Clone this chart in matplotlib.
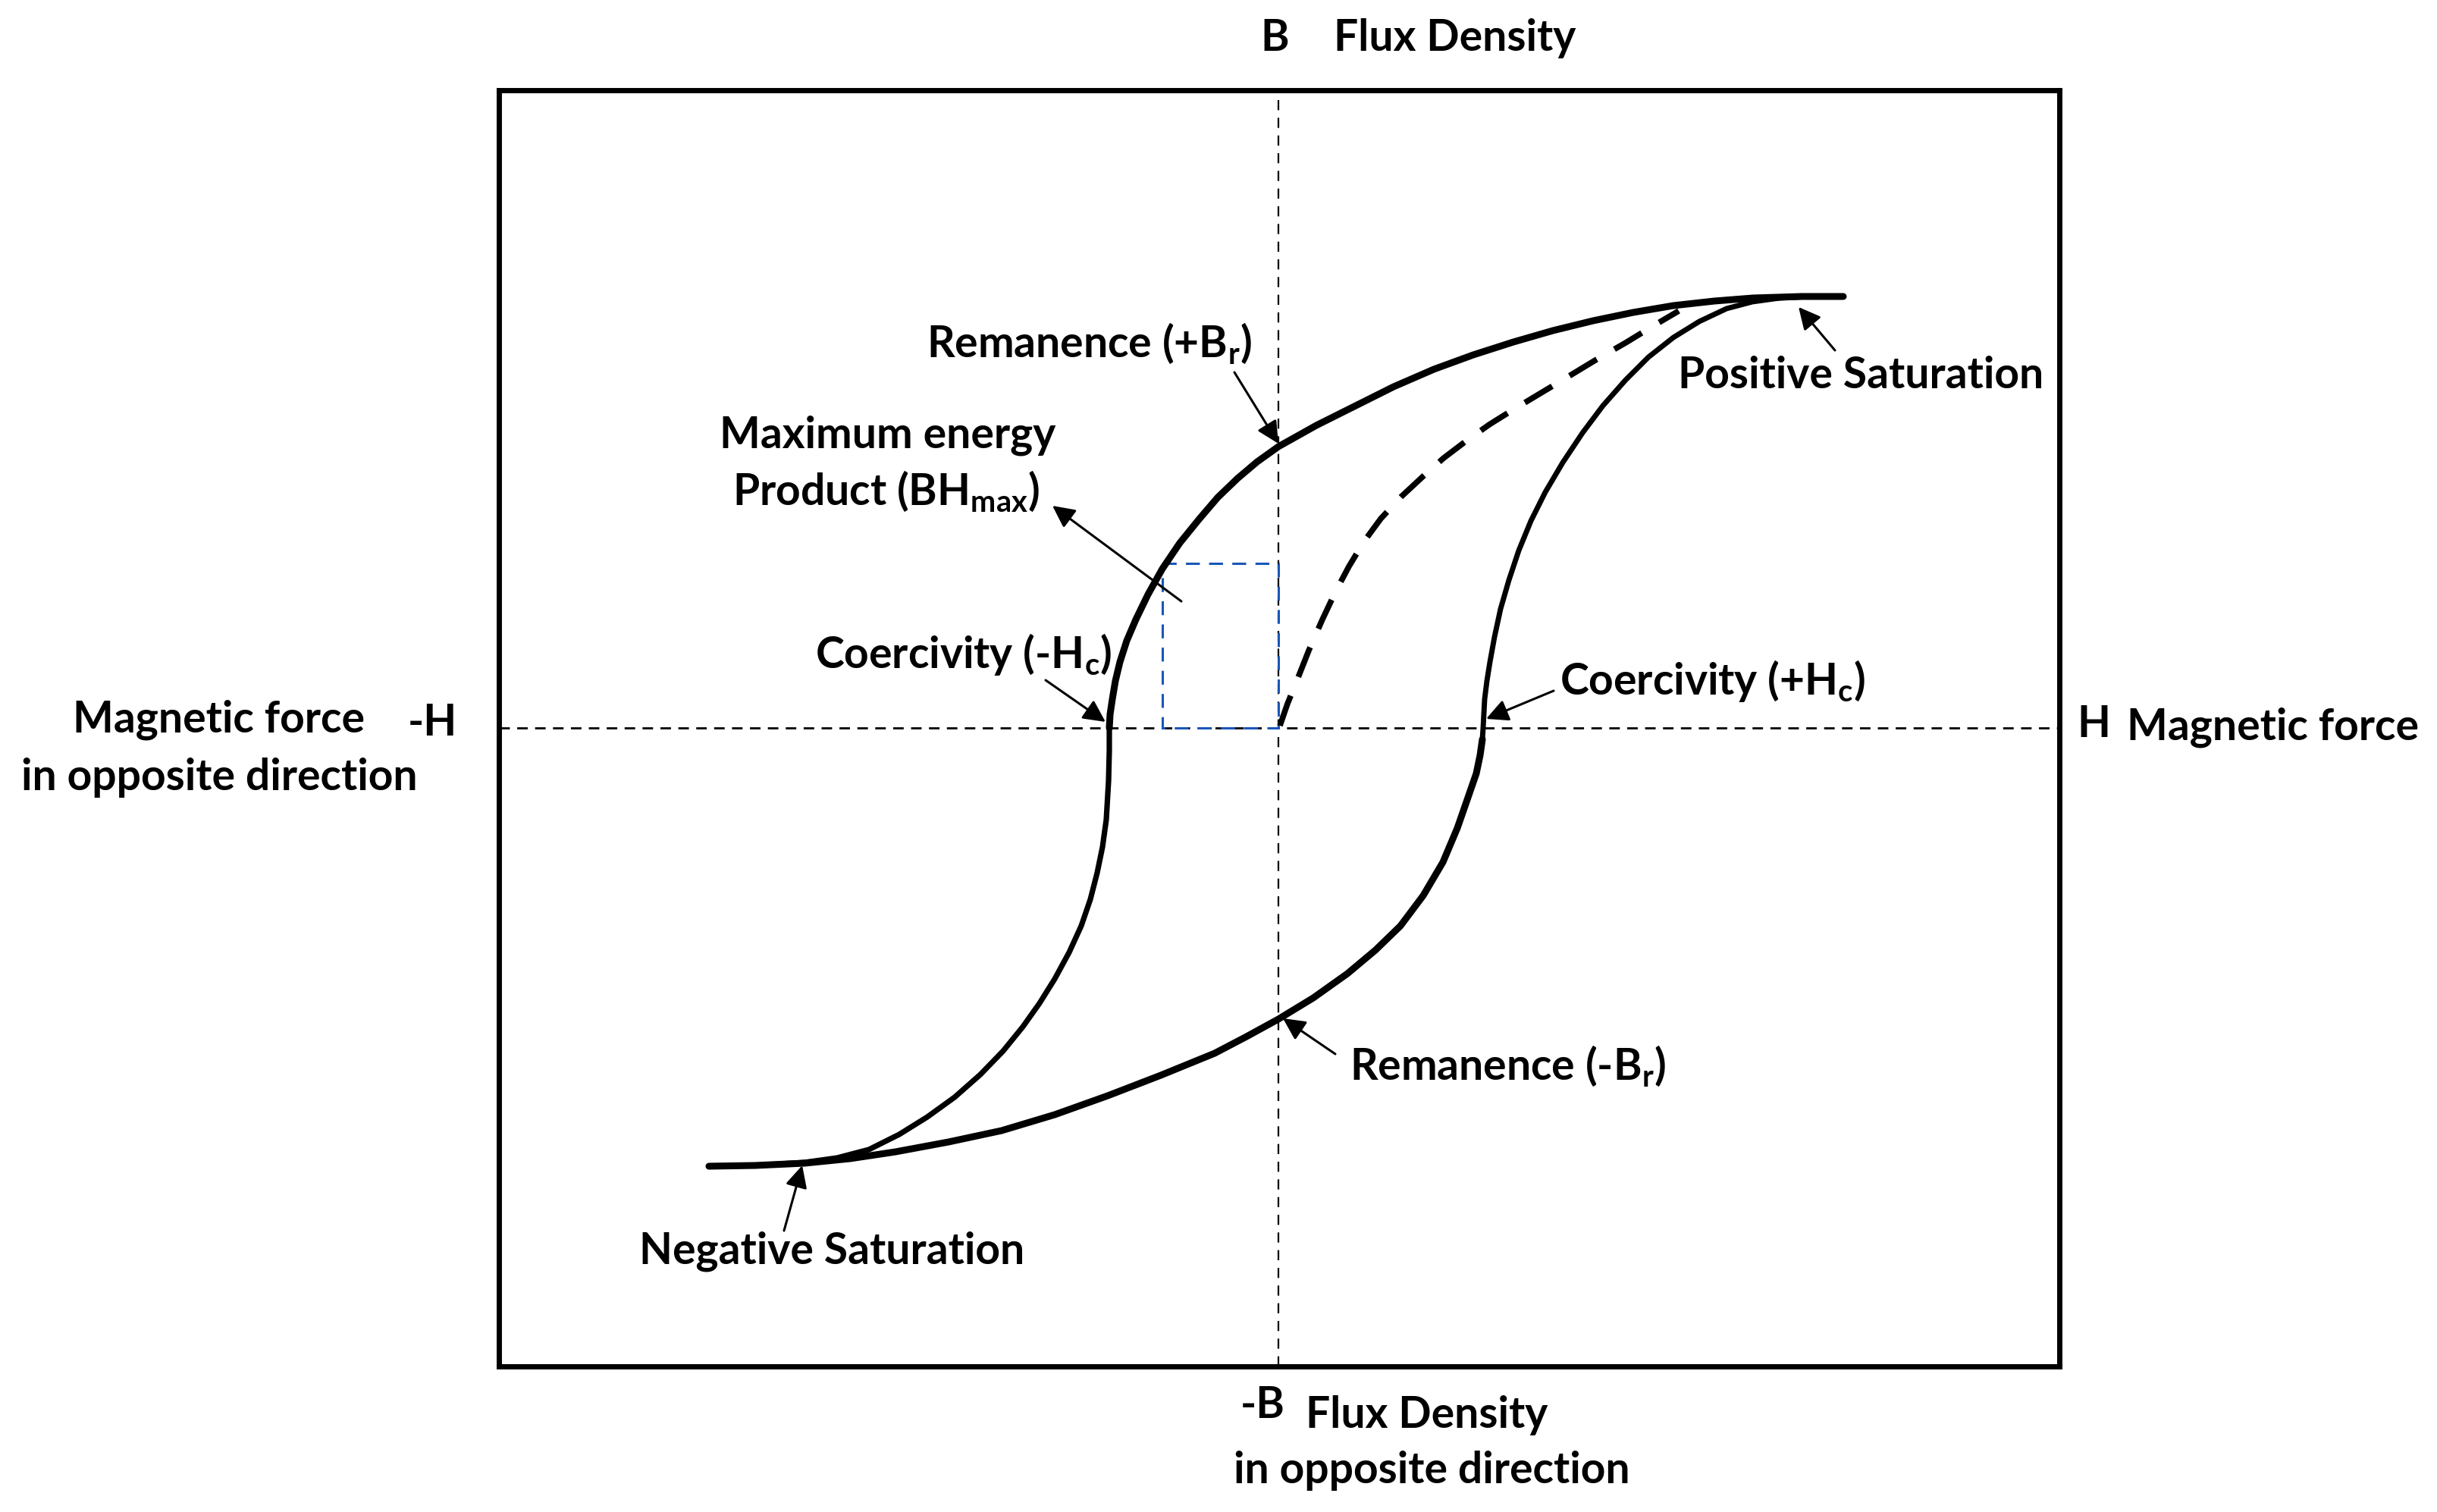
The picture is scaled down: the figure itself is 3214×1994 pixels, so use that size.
import matplotlib
matplotlib.use("Agg")
import matplotlib.pyplot as plt

plt.rcParams['font.family'] = ['Lato', 'DejaVu Sans']
plt.rcParams['font.weight'] = 'bold'
plt.rcParams['mathtext.fontset'] = 'custom'
plt.rcParams['mathtext.rm'] = 'Lato:bold'
plt.rcParams['mathtext.it'] = 'Lato:bold'
plt.rcParams['mathtext.bf'] = 'Lato:bold'

# ---- data (H, B in arbitrary units, origin at centre) ----
# descending branch: positive saturation -> +Br -> -Hc
desc_upper_H = [745, 690, 626, 575, 521, 468, 415, 362, 310, 257, 205, 152, 100, 50, 0, -28, -54, -80, -104, -130, -153, -172, -188, -200, -209, -215, -219, -222, -223]
desc_upper_B = [569, 569, 567, 563, 557, 548, 537, 524, 509, 492, 473, 450, 424, 399, 371, 351, 329, 304, 276, 244, 210, 176, 143, 115, 87, 62, 38, 18, 0]
# descending branch: -Hc -> negative saturation
desc_lower_H = [-223, -223, -224, -227, -232, -239, -248, -260, -276, -295, -315, -337, -363, -393, -427, -463, -500, -540, -582, -625, -690, -751]
desc_lower_B = [0, -30, -70, -121, -157, -191, -226, -261, -296, -331, -363, -394, -426, -457, -487, -513, -536, -556, -567, -573, -577, -578]
# ascending branch: negative saturation -> -Br -> +Hc
asc_lower_H = [-751, -690, -625, -565, -505, -435, -365, -295, -225, -155, -84, -42, 0, 46, 91, 128, 161, 191, 217, 236, 252, 261, 266, 269]
asc_lower_B = [-578, -577, -574, -568, -559, -546, -531, -510, -485, -458, -429, -407, -384, -356, -324, -293, -261, -221, -177, -132, -86, -60, -36, -15]
# ascending branch: +Hc -> positive saturation
asc_upper_H = [269, 270, 272, 275, 279, 285, 293, 304, 317, 333, 352, 375, 401, 428, 458, 488, 521, 555, 591, 625, 661, 700, 745]
asc_upper_B = [-15, 0, 38, 62, 87, 120, 157, 195, 234, 273, 311, 350, 389, 425, 459, 489, 515, 536, 553, 562, 567, 569, 569]
# initial magnetisation curve
init_H = [2, 12, 23, 40, 58, 75, 93, 113, 135, 162, 191, 218, 247, 278, 310, 345, 380, 418, 458, 494, 528]
init_B = [3, 32, 59, 102, 143, 179, 213, 246, 276, 305, 332, 356, 378, 400, 420, 441, 462, 485, 508, 530, 550]
# BH max rectangle corner
bhmax_H = -153
bhmax_B = 217

XLIM = (-1028, 1030)
YLIM = (-842, 841)

W, Hpx = 3214, 1994
fig = plt.figure(figsize=(W / 100, Hpx / 100), dpi=100)
ax = fig.add_axes([658 / W, 1 - 1802 / Hpx, (2716 - 658) / W, (1802 - 119) / Hpx])
ax.set_xlim(*XLIM)
ax.set_ylim(*YLIM)
ax.set_xticks([])
ax.set_yticks([])
for s in ax.spines.values():
    s.set_linewidth(5)
    s.set_color('black')

# axis dashed lines
ax.axhline(0, color='black', lw=2.0, dashes=(5, 3.5), zorder=1)
ax.axvline(0, color='black', lw=1.6, dashes=(6, 4.5), zorder=1)

# BH max rectangle
ax.plot([bhmax_H, 0, 0, bhmax_H, bhmax_H], [bhmax_B, bhmax_B, 0, 0, bhmax_B],
        color='#1a56b8', lw=2.2, dashes=(6, 4), zorder=2)

# hysteresis loop
kw = dict(color='black', solid_capstyle='round', solid_joinstyle='round', zorder=3)
ax.plot(desc_upper_H, desc_upper_B, lw=6.5, **kw)
ax.plot(desc_lower_H, desc_lower_B, lw=5.2, **kw)
ax.plot(asc_lower_H, asc_lower_B, lw=6.5, **kw)
ax.plot(asc_upper_H, asc_upper_B, lw=5.0, **kw)
ax.plot(init_H, init_B, color='black', lw=5.5, dashes=(5.5, 3.5), zorder=3)

FS = 41
tkw = dict(fontsize=FS, fontweight='bold', color='black', clip_on=False, va='center')

# axis labels
ax.text(-5, 909, 'B', ha='center', **tkw)
ax.text(73, 909, 'Flux Density', ha='left', **tkw)
ax.text(-21, -893, '-B', ha='center', **tkw)
ax.text(196, -906, 'Flux Density', ha='center', **tkw)
ax.text(202, -979, 'in opposite direction', ha='center', **tkw)
ax.text(-1116, 7, '-H', ha='center', **tkw)
ax.text(-1397, 11, 'Magnetic force', ha='center', **tkw)
ax.text(-1397, -65, 'in opposite direction', ha='center', **tkw)
ax.text(1075, 5, 'H', ha='center', **tkw)
ax.text(1311, 1, 'Magnetic force', ha='center', **tkw)

# annotations
akw = dict(arrowstyle='-|>', lw=2.2, color='black', mutation_scale=44, shrinkA=0, shrinkB=0)


def note(txt, tx, ty, tail, head, ha='center'):
    ax.text(tx, ty, txt, ha=ha, **tkw)
    ax.annotate('', xy=head, xytext=tail, arrowprops=akw, zorder=4)


note('Remanence (+B$_{r}$)', -249, 507, (-58, 469), (0, 375))
ax.text(-515, 386, 'Maximum energy', ha='center', **tkw)
note('Product (BH$_{max}$)', -517, 312, (-128, 167), (-298, 293))
note('Coercivity (-H$_{c}$)', -415, 97, (-307, 63), (-228, 8))
note('Coercivity (+H$_{c}$)', 573, 62, (363, 49), (274, 12))
note('Positive Saturation', 768, 464, (734, 498), (686, 555))
note('Remanence (-B$_{r}$)', 303, -446, (75, -430), (6, -383))
note('Negative Saturation', -589, -690, (-652, -663), (-628, -577))

fig.savefig('out.png', dpi=100, facecolor='white')
